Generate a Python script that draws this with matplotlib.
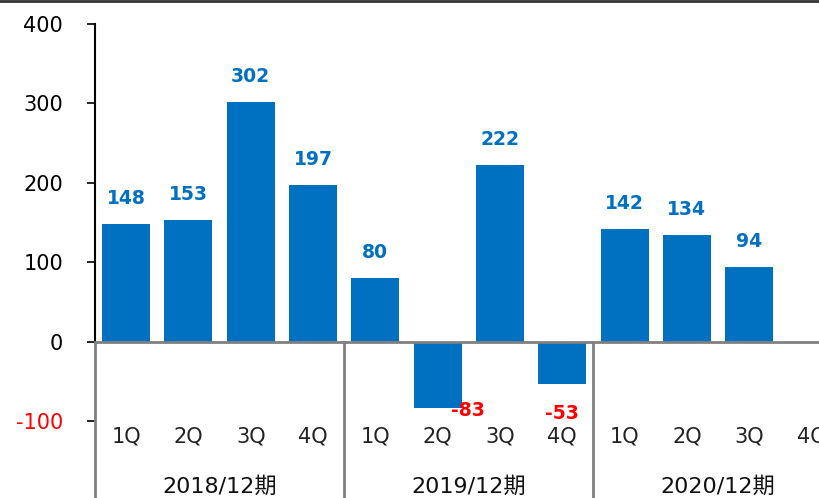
import matplotlib
matplotlib.use("Agg")
import matplotlib.pyplot as plt
from matplotlib.lines import Line2D

years = ["2018/12期", "2019/12期", "2020/12期"]
quarters = ["1Q", "2Q", "3Q", "4Q"]
values = [148, 153, 302, 197, 80, -83, 222, -53, 142, 134, 94]
yticks = [-100, 0, 100, 200, 300, 400]

BLUE = "#0070C0"
GRAY = "#808080"
plt.rcParams['font.family'] = ['DejaVu Sans', 'Noto Sans CJK JP']

W, H = 819, 498
fig = plt.figure(figsize=(W / 100, H / 100), dpi=100)
ax = fig.add_axes([95 / W, 0, 1 - 95 / W, 1 - 24 / H])

xs = list(range(len(values)))
ax.bar(xs, values, width=0.77, color=BLUE, zorder=2)

ax.set_xlim(-0.5, -0.5 + (W - 95) / 62.3)
ax.set_ylim(-196.5, 400)

for s in ["top", "right", "bottom"]:
    ax.spines[s].set_visible(False)
ax.spines["left"].set_bounds(0, 400)
ax.spines["left"].set_linewidth(1.5)
ax.set_yticks(yticks)
ax.set_yticklabels([str(v) for v in yticks], fontsize=15)
ax.tick_params(axis='y', length=6, width=1.2, pad=17)
for lab, v in zip(ax.get_yticklabels(), yticks):
    lab.set_color("red" if v < 0 else "black")
ax.set_xticks([])

# zero line and group separators
ax.axhline(0, color=GRAY, lw=2, zorder=3)
nq = len(quarters)
for g in range(len(years) + 1):
    xb = -0.5 + g * nq
    ax.plot([xb, xb], [-196.5, 0], color=GRAY, lw=2, zorder=3, clip_on=False)

# quarter and year labels
for i in range(len(years) * nq):
    ax.text(i, -119.5, quarters[i % nq], ha="center", va="center", fontsize=15,
            color="#222222", clip_on=False)
for g, y in enumerate(years):
    ax.text(-0.5 + g * nq + nq / 2, -182, y, ha="center", va="center", fontsize=16,
            color="#111111", clip_on=False)

# data labels
neg_offsets = {5: (22, -2), 7: (0, -21)}
for i, v in enumerate(values):
    if v >= 0:
        ax.annotate(str(v), (i, v), xytext=(0, 18.5), textcoords="offset points",
                    ha="center", va="center", fontsize=13.5, fontweight="bold", color=BLUE)
    else:
        dx, dy = neg_offsets.get(i, (0, -14))
        ax.annotate(str(v), (i, v), xytext=(dx, dy), textcoords="offset points",
                    ha="center", va="center", fontsize=13.5, fontweight="bold", color="red",
                    zorder=4)

fig.add_artist(Line2D([0, 1], [1 - 1.5 / H, 1 - 1.5 / H], transform=fig.transFigure,
                      color="#333333", lw=2))

fig.savefig("out.png", dpi=100)
